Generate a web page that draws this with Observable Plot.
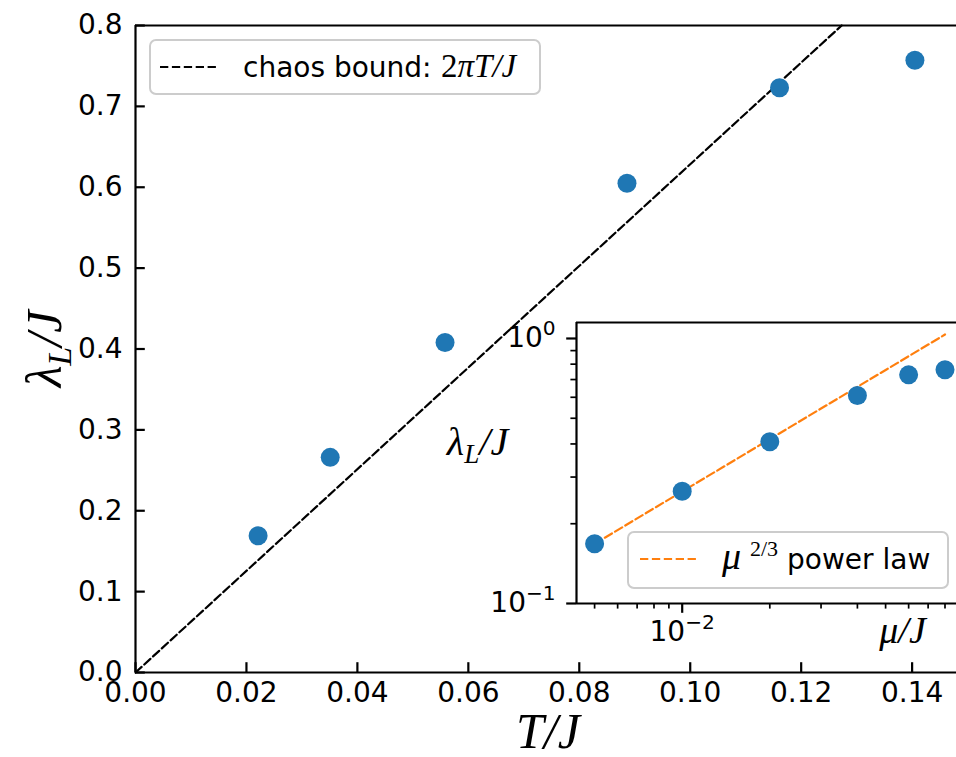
<!DOCTYPE html>
<html>
<head>
<meta charset="utf-8">
<script src="https://cdn.jsdelivr.net/npm/d3@7"></script>
<script src="https://cdn.jsdelivr.net/npm/@observablehq/plot@0.6"></script>
<style>
  html, body { margin: 0; padding: 0; background: #fff; overflow: hidden; }
  #wrap { position: relative; width: 956px; height: 757px; overflow: hidden; background: #fff; }
  #wrap svg { position: absolute; left: 0; top: 0; }
</style>
</head>
<body>
<div id="wrap"></div>
<script>
// ---------- data: main panel ----------
const temperature = [0.0221, 0.0351, 0.0558, 0.0886, 0.1161, 0.1405];
const lyapunov    = [0.169, 0.266, 0.408, 0.605, 0.723, 0.757];
const boundT      = [0, 0.1273];
const boundLambda = [0, 0.8];
const mainXDomain = [0, 0.148];
const mainYDomain = [0, 0.8];
const mainXTicks  = [0, 0.02, 0.04, 0.06, 0.08, 0.10, 0.12, 0.14];
const mainYTicks  = [0, 0.1, 0.2, 0.3, 0.4, 0.5, 0.6, 0.7, 0.8];

// ---------- data: inset ----------
const chemPotential  = [0.005, 0.01, 0.02, 0.04, 0.06, 0.08];
const insetLambda    = [0.168, 0.265, 0.408, 0.609, 0.729, 0.762];
const powerLawMu     = [0.005, 0.08];
const powerLawLambda = [0.168, 1.035];
const insetXDomain   = [0.004333, 0.08762];
const insetYDomain   = [0.1, 1.149];
const insetXMajor    = [0.01];
const insetXMajorExp = ["−2"];
const insetXMinor    = [0.005, 0.006, 0.007, 0.008, 0.009, 0.02, 0.03, 0.04, 0.05, 0.06, 0.07, 0.08];
const insetYMajor    = [0.1, 1];
const insetYMajorExp = ["−1", "0"];
const insetYMinor    = [0.2, 0.3, 0.4, 0.5, 0.6, 0.7, 0.8, 0.9];

// ---------- text ----------
const mainXLabel = "T/J";
const mainYLabelParts = ["λ", "L", "/J"];
const insetXLabel = "μ/J";
const insetYLabelParts = ["λ", "L", "/J"];
const mainLegendParts = ["chaos bound: ", "2", "πT/J"];
const insetLegendParts = ["μ", "2/3", "power law"];

const blue = "#1f77b4", orange = "#ff7f0e";
const W = 956, H = 757;
const sans = "DejaVu Sans", serif = "Liberation Serif";

const points = temperature.map((t, i) => ({T: t, lambda: lyapunov[i]}));
const bound = boundT.map((t, i) => ({T: t, lambda: boundLambda[i]}));
const insetPoints = chemPotential.map((m, i) => ({mu: m, lambda: insetLambda[i]}));
const powerLaw = powerLawMu.map((m, i) => ({mu: m, lambda: powerLawLambda[i]}));

function rich(svg, plain, parts) {
  d3.select(svg).selectAll("text").filter(function () { return this.textContent === plain; })
    .each(function () {
      const t = d3.select(this);
      t.text(null);
      for (const p of parts) {
        const s = t.append("tspan").text(p.text);
        for (const [k, v] of Object.entries(p.attrs || {})) s.attr(k, v);
      }
    });
}
const powerParts = (exp) => [
  {text: "10"},
  {text: exp, attrs: {"font-size": "0.72em", dy: "-0.62em"}}
];

// ---------- main plot ----------
const main = Plot.plot({
  width: W, height: H,
  marginLeft: 135, marginRight: 0, marginTop: 25, marginBottom: 85,
  style: {background: "transparent", fontFamily: sans, fontSize: "28px", color: "black"},
  x: {domain: mainXDomain},
  y: {domain: mainYDomain},
  marks: [
    Plot.line(bound, {x: "T", y: "lambda", stroke: "black", strokeWidth: 2.2, strokeDasharray: "8.3,3.6"}),
    Plot.dot(points, {x: "T", y: "lambda", r: 9.5, fill: blue}),
    Plot.axisX({ticks: mainXTicks, tickFormat: d3.format(".2f"), tickSize: -9.8, tickPadding: 19.8, strokeWidth: 2.2, label: null, fill: "black", stroke: "black"}),
    Plot.axisY({ticks: mainYTicks, tickFormat: d3.format(".1f"), tickSize: -9.8, tickPadding: 22.8, strokeWidth: 2.2, label: null, fill: "black", stroke: "black"}),
    Plot.ruleX([mainXDomain[0]], {stroke: "black", strokeWidth: 2.2}),
    Plot.ruleY([mainYDomain[0]], {stroke: "black", strokeWidth: 2.2}),
    Plot.ruleY([mainYDomain[1]], {stroke: "black", strokeWidth: 2.2}),
    Plot.text([mainXLabel], {frameAnchor: "bottom", lineAnchor: "middle", textAnchor: "middle", dx: 2, dy: 59, fontSize: 50, fontFamily: serif, fontStyle: "italic", fill: "black"}),
    Plot.text([mainYLabelParts.join("")], {frameAnchor: "left", lineAnchor: "middle", textAnchor: "middle", dx: -91, rotate: -90, fontSize: 50, fontFamily: serif, fontStyle: "italic", fill: "black"})
  ]
});
rich(main, mainYLabelParts.join(""), [
  {text: mainYLabelParts[0]},
  {text: mainYLabelParts[1], attrs: {"font-size": "0.68em", dy: "0.3em"}},
  {text: mainYLabelParts[2], attrs: {dy: "-0.2em"}}
]);
{
  const g = d3.select(main).append("g").attr("text-anchor", "start");
  g.append("rect").attr("x", 150).attr("y", 40).attr("width", 390).attr("height", 54).attr("rx", 6)
    .attr("fill", "white").attr("fill-opacity", 0.8).attr("stroke", "#cccccc").attr("stroke-width", 2);
  g.append("line").attr("x1", 160).attr("x2", 218).attr("y1", 67).attr("y2", 67)
    .attr("stroke", "black").attr("stroke-width", 2.2).attr("stroke-dasharray", "8.3,3.6");
  const t = g.append("text").attr("y", 77).attr("fill", "black").attr("text-anchor", "start");
  t.append("tspan").attr("x", 243).attr("font-family", sans).attr("font-size", 28).text(mainLegendParts[0]);
  t.append("tspan").attr("x", 441).attr("font-family", serif).attr("font-size", 33).text(mainLegendParts[1]);
  t.append("tspan").attr("font-family", serif).attr("font-style", "italic").attr("font-size", 33).text(mainLegendParts[2]);
}

// ---------- inset ----------
const inset = Plot.plot({
  width: W, height: H,
  marginLeft: 576, marginRight: 0, marginTop: 322, marginBottom: H - 603,
  style: {background: "transparent", fontFamily: sans, fontSize: "28px", color: "black"},
  x: {type: "log", domain: insetXDomain},
  y: {type: "log", domain: insetYDomain},
  marks: [
    Plot.frame({fill: "white", stroke: null}),
    Plot.line(powerLaw, {x: "mu", y: "lambda", stroke: orange, strokeWidth: 2.2, strokeDasharray: "8.3,3.6"}),
    Plot.dot(insetPoints, {x: "mu", y: "lambda", r: 9.5, fill: blue}),
    Plot.axisX({ticks: insetXMinor, tickSize: 5.6, tickFormat: () => "", strokeWidth: 1.7, label: null, stroke: "black"}),
    Plot.axisX({ticks: insetXMajor, tickSize: 9.8, tickPadding: 8, tickFormat: (d) => "10^" + insetXMajorExp[insetXMajor.indexOf(d)], strokeWidth: 2.2, label: null, fill: "black", stroke: "black"}),
    Plot.axisY({ticks: insetYMinor, tickSize: 5.6, tickFormat: () => "", strokeWidth: 1.7, label: null, stroke: "black"}),
    Plot.axisY({ticks: insetYMajor, tickSize: 9.8, tickPadding: 11, tickFormat: (d) => "10^" + insetYMajorExp[insetYMajor.indexOf(d)], strokeWidth: 2.2, label: null, fill: "black", stroke: "black"}),
    Plot.ruleX([insetXDomain[0]], {stroke: "black", strokeWidth: 2.2}),
    Plot.ruleY([insetYDomain[0]], {stroke: "black", strokeWidth: 2.2}),
    Plot.ruleY([insetYDomain[1]], {stroke: "black", strokeWidth: 2.2}),
    Plot.text([insetXLabel], {frameAnchor: "bottom", lineAnchor: "middle", textAnchor: "middle", dx: 136, dy: 27, fontSize: 38, fontFamily: serif, fontStyle: "italic", fill: "black"}),
    Plot.text([insetYLabelParts.join("")], {frameAnchor: "left", lineAnchor: "middle", textAnchor: "middle", dx: -99, dy: -21, fontSize: 40, fontFamily: serif, fontStyle: "italic", fill: "black"})
  ]
});
rich(inset, insetYLabelParts.join(""), [
  {text: insetYLabelParts[0]},
  {text: insetYLabelParts[1], attrs: {"font-size": "0.68em", dy: "0.3em"}},
  {text: insetYLabelParts[2], attrs: {dy: "-0.2em"}}
]);
for (const e of insetXMajorExp) rich(inset, "10^" + e, powerParts(e));
for (const e of insetYMajorExp) rich(inset, "10^" + e, powerParts(e));
{
  const g = d3.select(inset).append("g").attr("text-anchor", "start");
  g.append("rect").attr("x", 628).attr("y", 532).attr("width", 320).attr("height", 56).attr("rx", 6)
    .attr("fill", "white").attr("fill-opacity", 0.8).attr("stroke", "#cccccc").attr("stroke-width", 2);
  g.append("line").attr("x1", 640).attr("x2", 698).attr("y1", 559).attr("y2", 559)
    .attr("stroke", orange).attr("stroke-width", 2.2).attr("stroke-dasharray", "8.3,3.6");
  const t = g.append("text").attr("y", 569).attr("fill", "black").attr("text-anchor", "start");
  t.append("tspan").attr("x", 722).attr("font-family", serif).attr("font-style", "italic").attr("font-size", 38).text(insetLegendParts[0]);
  t.append("tspan").attr("x", 750).attr("dy", -13).attr("font-family", serif).attr("font-size", 22).text(insetLegendParts[1]);
  t.append("tspan").attr("x", 787).attr("dy", 13).attr("font-family", sans).attr("font-size", 28).text(insetLegendParts[2]);
}

const wrap = document.getElementById("wrap");
wrap.appendChild(main);
wrap.appendChild(inset);
</script>
</body>
</html>
